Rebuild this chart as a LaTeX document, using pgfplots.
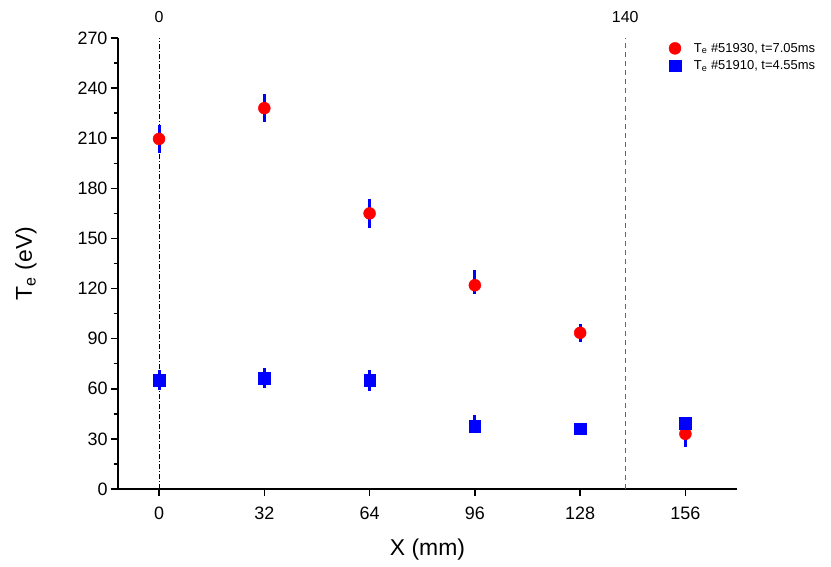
\documentclass[border=0pt]{standalone}
\usepackage{pgfplots}
\pgfplotsset{compat=1.18}
\usepackage{fontspec}
\setmainfont{Liberation Sans}
\begin{document}
\begin{tikzpicture}
\begin{axis}[
  scale only axis,
  width=619bp, height=451bp,
  xmin=-0.39, xmax=5.49,
  ymin=0, ymax=270,
  axis lines=left,
  axis line style={line width=1.8bp, -},
  xtick={0,1,2,3,4,5},
  xticklabels={0,32,64,96,128,156},
  ytick={0,30,...,270},
  minor y tick num=1,
  tick align=outside,
  major tick length=7bp,
  minor tick length=4bp,
  tick style={line width=1.5bp, black},
  ticklabel style={font=\fontsize{18}{20}\selectfont},
  xticklabel style={yshift=-7bp},
  yticklabel style={xshift=0bp},
  /pgf/number format/assume math mode=true,
  xlabel={X (mm)},
  ylabel={T\textsubscript{e} (eV)},
  label style={font=\fontsize{23}{25}\selectfont},
  xlabel style={yshift=-13bp},
  ylabel style={yshift=34bp},
  clip=false,
  legend style={at={(0.885,0.998)}, anchor=north west, draw=none, fill=none,
    font=\fontsize{13}{15}\selectfont, row sep=3bp,
    /tikz/every odd column/.append style={column sep=11bp}},
  legend cell align=left,
]
% reference lines
\addplot[black, line width=0.8bp, dash pattern=on 5bp off 2bp on 1bp off 2bp, forget plot] coordinates {(0,0) (0,270)};
\addplot[gray!80!black, line width=1.2bp, dash pattern=on 5bp off 4bp, forget plot] coordinates {(4.4286,0) (4.4286,270)};
\node[font=\fontsize{16}{18}\selectfont, anchor=base] at (axis cs:0,279.5) {0};
\node[font=\fontsize{16}{18}\selectfont, anchor=base] at (axis cs:4.4286,279.5) {140};
% error bars
\addplot[draw=none, mark=none, forget plot,
  error bars/.cd, y dir=both, y explicit, error mark=none,
  error bar style={blue, line width=3bp}]
  coordinates {(0,65.3) +- (0,6) (1,66.5) +- (0,6) (2,65) +- (0,6.5) (3,37.7) += (0,6.5) -= (0,3) (4,36) +- (0,1.5) (5,39.5) +- (0,3)};
\addplot[draw=none, mark=none, forget plot,
  error bars/.cd, y dir=both, y explicit, error mark=none,
  error bar style={blue, line width=3bp}]
  coordinates {(0,209.6) +- (0,8.4) (1,228) +- (0,8.4) (2,165) +- (0,8.7) (3,122) += (0,9) -= (0,5) (4,93.5) +- (0,5.4) (5,33) += (0,8) -= (0,8)};
% markers
\addplot[only marks, mark=*, mark size=6bp, color=red, mark options={draw=red, fill=red}]
  coordinates {(0,209.6) (1,228) (2,165) (3,122) (4,93.5) (5,33)};
\addplot[only marks, mark=square*, mark size=5.8bp, color=blue, mark options={draw=blue, fill=blue}]
  coordinates {(0,65.3) (1,66.5) (2,65) (3,37.7) (4,36) (5,39.5)};
\legend{{T\textsubscript{e} \#51930, t=7.05ms}, {T\textsubscript{e} \#51910, t=4.55ms}}
\end{axis}
\pgfresetboundingbox
\path[use as bounding box] ([shift={(-118bp,-78bp)}]current axis.south west) rectangle ([shift={(713bp,489bp)}]current axis.south west);
\end{tikzpicture}
\end{document}
